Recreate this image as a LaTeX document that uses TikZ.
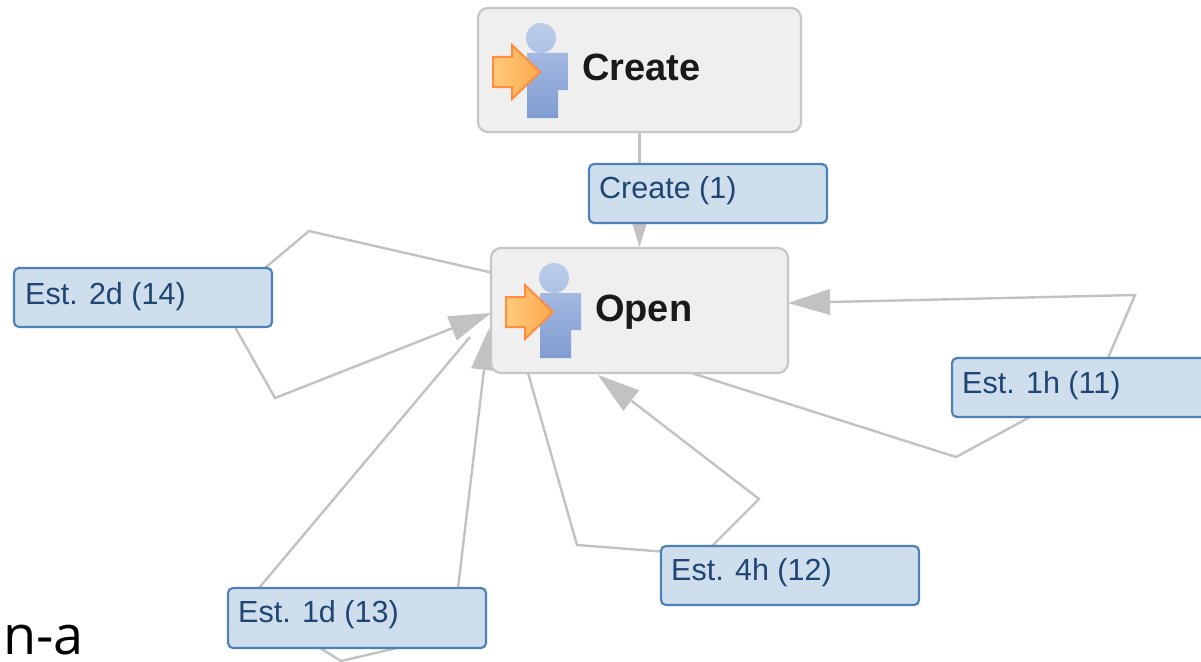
\documentclass[tikz,border=0pt]{standalone}
\usepackage{fontspec}
\setmainfont{Liberation Sans}
\newfontfamily\oddfont{Open Sans}
\usetikzlibrary{arrows.meta,calc,backgrounds}
\definecolor{edgegray}{HTML}{C2C2C2}
\definecolor{boxgray}{HTML}{EFEFEF}
\definecolor{boxline}{HTML}{C6C6C6}
\definecolor{lblfill}{HTML}{CEDEED}
\definecolor{lblline}{HTML}{4F81B9}
\definecolor{lbltext}{HTML}{1F4673}
\definecolor{headtop}{HTML}{BCCDEA}
\definecolor{headbot}{HTML}{AEC2E4}
\definecolor{bodytop}{HTML}{A4B9E2}
\definecolor{bodybot}{HTML}{7F9BD0}
\definecolor{arrowleft}{HTML}{FFCB7C}
\definecolor{arrowright}{HTML}{FFA84C}
\definecolor{arrowline}{HTML}{FF8C3C}
\tikzset{
  x=1pt,y=-1pt,
  statebox/.style={draw=boxline,fill=boxgray,line width=2.2pt,rounded corners=10pt,anchor=north west,inner sep=0pt,outer sep=0pt},
  translabel/.style={draw=lblline,fill=lblfill,line width=2.2pt,rounded corners=5pt,anchor=north west,minimum width=258pt,minimum height=59pt,inner sep=0pt,outer sep=0pt},
  lbltxt/.style={anchor=west,text=lbltext,font=\fontsize{30.5}{30.5}\selectfont,inner sep=0pt},
  statetxt/.style={anchor=west,text=black!90,font=\fontsize{38}{38}\selectfont\bfseries,inner sep=0pt},
  edge/.style={draw=edgegray,line width=2.4pt,line join=miter},
  arr/.style={edge,-{Triangle[length=42pt,width=26pt,line width=0pt,fill=edgegray]}}
}
\newcommand{\personicon}[1]{%
 \begin{scope}[shift={(#1)}]
  \shade[top color=headtop,bottom color=headbot] (63,30) circle (15);
  \shade[top color=bodytop,bottom color=bodybot] (49,45) -- (90,45) -- (90,82) -- (80,82) -- (80,110) -- (49,110) -- cycle;
  \shade[left color=arrowleft,right color=arrowright,draw=arrowline,line width=2pt]
    (15,49) -- (34,49) -- (34,37) -- (62,64) -- (34,91) -- (34,79) -- (15,79) -- cycle;
 \end{scope}}
\begin{document}
\begin{tikzpicture}
\useasboundingbox (0,0) rectangle (1201,661);
\clip (0,0) rectangle (1201,661);
% free bends
\coordinate (b2a) at (309,231);
\coordinate (b2b) at (275,398);
\coordinate (b1a) at (956,457);
\coordinate (b1b) at (1135,295);
\coordinate (b4a) at (577,545);
\coordinate (b4b) at (759,499);
\coordinate (bd) at (341,661);
% states
\node[statebox,minimum width=323pt,minimum height=124pt] (create) at (478,8) {};
\node[statebox,minimum width=297pt,minimum height=125pt] (open) at (491,248) {};
% labels
\node[translabel,minimum width=238pt] (lcreate) at (589,164) {};
\node[translabel] (l2d) at (14,268) {};
\node[translabel,minimum width=270pt] (l1h) at (952,358) {};
\node[translabel] (l4h) at (661,546) {};
\node[translabel,minimum height=60pt] (l1d) at (228,588) {};
% connectors behind everything
\begin{scope}[on background layer]
\draw[arr] (create.south) -- ($(open.north)+(0,-1)$);
\draw[edge] ($(open.west)+(0,-38)$) -- (b2a) -- ($(l2d.north east)+(-7,0)$);
\draw[arr] ($(l2d.south west)+(221,0)$) -- (b2b) -- ($(open.west)+(0,2.5)$);
\draw[edge] ($(open.south)+(52,0)$) -- (b1a) -- ($(l1h.south west)+(78,0)$);
\draw[arr] ($(l1h.north west)+(156,0)$) -- (b1b) -- ($(open.east)+(0,-7.5)$);
\draw[edge] ($(open.south west)+(37,0)$) -- (b4a) -- ($(l4h.west)+(0,-24)$);
\draw[arr] ($(l4h.north west)+(51,0)$) -- (b4b) -- ($(open.south)+(-41.5,2)$);
\draw[edge] ($(l1d.north west)+(31,0)$) -- ($(open.west)+(-21,26.5)$);
\draw[arr] ($(l1d.north west)+(230,0)$) -- ($(open.west)+(-2,17.5)$);
\draw[edge] ($(l1d.south west)+(92,0)$) -- (bd) -- ($(l1d.south west)+(169,0)$);
\end{scope}
% icons and texts
\personicon{478,8}
\personicon{491,248}
\node[statetxt] (tcreate) at (582,67) {Create};
\node[statetxt] (topen) at (595,312) {Open};
\node[lbltxt] (tlc) at (599,191) {Create (1)};
\node[lbltxt] (t2d) at (25,297) {Est. 2d (14)};
\node[lbltxt] (t1h) at (962,386) {Est. 1h (11)};
\node[lbltxt] (t4h) at (671,573) {Est. 4h (12)};
\node[lbltxt] (t1d) at (238,615) {Est. 1d (13)};
\node[anchor=base west,inner sep=0pt,text=black,font=\oddfont\fontsize{54}{54}\selectfont] (na) at (3,654) {n-a};
\end{tikzpicture}
\end{document}
